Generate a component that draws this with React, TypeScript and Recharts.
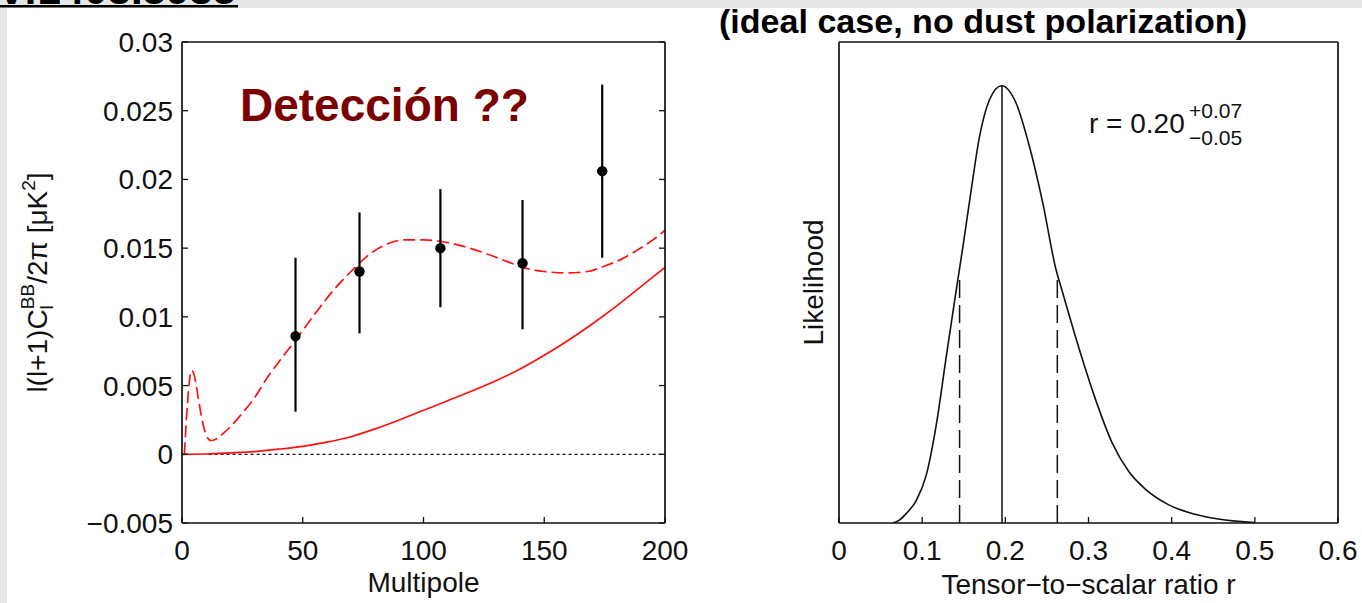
import React from "react";
import { ComposedChart, Line, Scatter, ErrorBar, XAxis, YAxis, ReferenceLine } from "recharts";

const FONT = "'Liberation Sans', Arial, Helvetica, sans-serif";
const INK = "#111111";
const RED = "#ff1010";

// left panel: BB band powers and models
const multipoleTicks = [0, 50, 100, 150, 200];
const powerTicks = [-0.005, 0, 0.005, 0.01, 0.015, 0.02, 0.025, 0.03];
const bandEll = [47, 73.5, 107, 141, 174];
const bandPower = [0.0086, 0.0133, 0.015, 0.0139, 0.0206];
const bandErrLow = [0.0055, 0.0045, 0.0043, 0.0048, 0.0063];
const bandErrHigh = [0.0057, 0.0043, 0.0043, 0.0046, 0.0063];

// lensing + r=0.2 model (dashed)
const modelEll = [1, 2, 3, 4, 5, 6, 7, 8, 10, 12, 14, 17, 20, 25, 30, 35, 40, 47, 55, 63, 70, 78, 85, 92, 100, 107, 115, 126, 135, 141, 150, 159, 168, 175, 182, 188, 195, 200];
const modelPower = [0, 0.003, 0.0052, 0.0061, 0.0058, 0.0049, 0.0038, 0.0028, 0.0014, 0.001, 0.0011, 0.0015, 0.002, 0.003, 0.0041, 0.0055, 0.0067, 0.0083, 0.0102, 0.012, 0.0133, 0.0146, 0.0153, 0.0156, 0.0156, 0.0155, 0.0152, 0.0146, 0.014, 0.0136, 0.0133, 0.0132, 0.0133, 0.0137, 0.0142, 0.0148, 0.0156, 0.0163];

// lensing only (solid)
const lensEll = [0, 10, 20, 30, 40, 50, 60, 70, 80, 90, 100, 110, 120, 130, 140, 150, 160, 170, 180, 190, 200];
const lensPower = [0, 0.00002, 0.0001, 0.0002, 0.00037, 0.00058, 0.00088, 0.00128, 0.00185, 0.0025, 0.0032, 0.0039, 0.0046, 0.00535, 0.0062, 0.0072, 0.0083, 0.0095, 0.0108, 0.0122, 0.0136];
const zeroLineFrom = 11;

// right panel: likelihood of r
const ratioTicks = [0, 0.1, 0.2, 0.3, 0.4, 0.5, 0.6];
const ratioGrid = [0.065, 0.072, 0.081, 0.093, 0.105, 0.117, 0.129, 0.141, 0.149, 0.159, 0.169, 0.181, 0.1955, 0.213, 0.229, 0.245, 0.261, 0.268, 0.288, 0.308, 0.328, 0.348, 0.368, 0.396, 0.428, 0.46, 0.5];
const likelihood = [0, 0.006, 0.022, 0.052, 0.11, 0.225, 0.381, 0.533, 0.632, 0.762, 0.884, 0.968, 1.0, 0.96, 0.861, 0.732, 0.579, 0.533, 0.403, 0.285, 0.185, 0.119, 0.078, 0.042, 0.02, 0.008, 0.001];
const rBest = 0.196;
const rLow = 0.145;
const rHigh = 0.2625;
const likeAtLow = 0.565;
const likeAtHigh = 0.56;

const bandData = bandEll.map((x, i) => ({ x, y: bandPower[i], err: [bandErrLow[i], bandErrHigh[i]] }));
const modelData = modelEll.map((x, i) => ({ x, y: modelPower[i] }));
const lensData = lensEll.map((x, i) => ({ x, y: lensPower[i] }));
const likeData = ratioGrid.map((x, i) => ({ x, y: likelihood[i] }));

interface TickProps {
  x?: number;
  y?: number;
  payload?: { value?: number };
}

const fmt = (v: number) => (v < 0 ? "\u2212" + String(-v) : String(v));

const renderBottomTick = ({ x = 0, y = 0, payload }: TickProps) => (
  <g>
    <line x1={x} y1={y} x2={x} y2={y - 6} stroke={INK} strokeWidth={1.3} />
    <text x={x} y={y + 37} textAnchor="middle" fontSize={28} fill={INK} fontFamily={FONT}>
      {fmt(payload?.value ?? 0)}
    </text>
  </g>
);

const renderTopTick = ({ x = 0, y = 0 }: TickProps) => <line x1={x} y1={y} x2={x} y2={y + 6} stroke={INK} strokeWidth={1.3} />;

const renderLeftTick = ({ x = 0, y = 0, payload }: TickProps) => (
  <g>
    <line x1={x} y1={y} x2={x + 6} y2={y} stroke={INK} strokeWidth={1.3} />
    <text x={x - 9} y={y + 10} textAnchor="end" fontSize={28} fill={INK} fontFamily={FONT}>
      {fmt(payload?.value ?? 0)}
    </text>
  </g>
);

const renderRightTick = ({ x = 0, y = 0 }: TickProps) => <line x1={x} y1={y} x2={x - 6} y2={y} stroke={INK} strokeWidth={1.3} />;

const renderXTitle = (text: string, dy: number) => (props: any) => {
  const vb = props.viewBox || {};
  const cx = (vb.x ?? 0) + (vb.width ?? 0) / 2;
  return (
    <text x={cx} y={(vb.y ?? 0) + dy} textAnchor="middle" fontSize={28} fill={INK} fontFamily={FONT}>
      {text}
    </text>
  );
};

const renderPowerTitle = (props: any) => {
  const vb = props.viewBox || {};
  const cx = (vb.x ?? 0) + 47;
  const cy = (vb.y ?? 42) + (vb.height ?? 481) / 2;
  return (
    <text transform={`rotate(-90 ${cx} ${cy})`} x={cx} y={cy} textAnchor="middle" fontSize={28} fill={INK} fontFamily={FONT}>
      l(l+1)C
      <tspan fontSize={19} dy={6}>l</tspan>
      <tspan fontSize={19} dx={-4} dy={-19}>BB</tspan>
      <tspan dy={13}>/2π [μK</tspan>
      <tspan fontSize={19} dy={-12}>2</tspan>
      <tspan dy={12}>]</tspan>
    </text>
  );
};

const renderLikeTitle = (props: any) => {
  const vb = props.viewBox || {};
  const cx = (vb.x ?? 0) + 103;
  const cy = (vb.y ?? 42) + (vb.height ?? 481) / 2;
  return (
    <text transform={`rotate(-90 ${cx} ${cy})`} x={cx} y={cy} textAnchor="middle" fontSize={28} fill={INK} fontFamily={FONT}>
      Likelihood
    </text>
  );
};

const axisLine = { stroke: INK, strokeWidth: 1.7 };

function SpectrumPanel() {
  return (
    <ComposedChart width={700} height={603} margin={{ top: 41, right: 34, bottom: 0, left: 0 }}>
      <XAxis dataKey="x" type="number" domain={[0, 200]} allowDataOverflow ticks={multipoleTicks} tickSize={0} tickMargin={0} tickLine={false} tick={renderBottomTick} axisLine={axisLine} height={80} label={renderXTitle("Multipole", 69)} />
      <XAxis xAxisId="top" orientation="top" type="number" domain={[0, 200]} allowDataOverflow ticks={multipoleTicks} tickSize={0} tickMargin={0} tickLine={false} tick={renderTopTick} axisLine={axisLine} height={1} />
      <YAxis type="number" domain={[-0.005, 0.03]} allowDataOverflow ticks={powerTicks} tickSize={0} tickMargin={0} tickLine={false} tick={renderLeftTick} axisLine={axisLine} width={182} label={renderPowerTitle} />
      <YAxis yAxisId="right" orientation="right" type="number" domain={[-0.005, 0.03]} allowDataOverflow ticks={powerTicks} tickSize={0} tickMargin={0} tickLine={false} tick={renderRightTick} axisLine={axisLine} width={1} />
      <ReferenceLine segment={[{ x: zeroLineFrom, y: 0 }, { x: 200, y: 0 }]} stroke={INK} strokeWidth={1.2} strokeDasharray="3 3" />
      <Line data={lensData} dataKey="y" type="monotone" stroke={RED} strokeWidth={1.7} dot={false} isAnimationActive={false} />
      <Line data={modelData} dataKey="y" type="monotone" stroke={RED} strokeWidth={1.7} strokeDasharray="12 5" dot={false} isAnimationActive={false} />
      <Scatter data={bandData} dataKey="y" fill="#000" isAnimationActive={false} shape={(p: any) => <circle cx={p.cx} cy={p.cy} r={5.2} fill="#000" />}>
        <ErrorBar dataKey="err" direction="y" width={0} stroke="#000" strokeWidth={2.2} isAnimationActive={false} />
      </Scatter>
    </ComposedChart>
  );
}

function LikelihoodPanel() {
  return (
    <ComposedChart width={642} height={603} margin={{ top: 41, right: 23, bottom: 0, left: 0 }}>
      <XAxis dataKey="x" type="number" domain={[0, 0.6]} allowDataOverflow ticks={ratioTicks} tickSize={0} tickMargin={0} tickLine={false} tick={renderBottomTick} axisLine={axisLine} height={80} label={renderXTitle("Tensor\u2212to\u2212scalar ratio r", 71)} />
      <XAxis xAxisId="top" orientation="top" type="number" domain={[0, 0.6]} allowDataOverflow ticks={ratioTicks} tickSize={0} tickMargin={0} tickLine={false} tick={renderTopTick} axisLine={axisLine} height={1} />
      <YAxis type="number" domain={[0, 1.1]} allowDataOverflow tick={false} tickLine={false} axisLine={axisLine} width={119} label={renderLikeTitle} />
      <YAxis yAxisId="right" orientation="right" type="number" domain={[0, 1.1]} allowDataOverflow tick={false} tickLine={false} axisLine={axisLine} width={1} />
      <ReferenceLine segment={[{ x: rBest, y: 0 }, { x: rBest, y: 1 }]} stroke={INK} strokeWidth={1.5} />
      <ReferenceLine segment={[{ x: rLow, y: 0 }, { x: rLow, y: likeAtLow }]} stroke={INK} strokeWidth={1.5} strokeDasharray="18 7" />
      <ReferenceLine segment={[{ x: rHigh, y: 0 }, { x: rHigh, y: likeAtHigh }]} stroke={INK} strokeWidth={1.5} strokeDasharray="18 7" />
      <Line data={likeData} dataKey="y" type="monotone" stroke={INK} strokeWidth={1.6} dot={false} isAnimationActive={false} />
    </ComposedChart>
  );
}

export default function App() {
  return (
    <div style={{ position: "absolute", left: 0, top: 0, width: 1362, height: 603, background: "#e6e6e6", overflow: "hidden", fontFamily: FONT }}>
      <div style={{ position: "absolute", left: 7, top: 8, width: 1355, height: 595, background: "#ffffff" }} />
      <div style={{ position: "absolute", left: 0, top: 0 }}>
        <SpectrumPanel />
      </div>
      <div style={{ position: "absolute", left: 720, top: 0 }}>
        <LikelihoodPanel />
      </div>
      <svg width={1362} height={603} style={{ position: "absolute", left: 0, top: 0, pointerEvents: "none" }}>
        <text x={236} y={4} textAnchor="end" fontSize={42} fontWeight={700} fill="#000" fontFamily={FONT}>
          arXiv:1403.3985
        </text>
        <rect x={0} y={5} width={238} height={2.5} fill="#000" />
        <text x={719} y={33} fontSize={34} fontWeight={700} fill="#000" fontFamily={FONT} textLength={528} lengthAdjust="spacingAndGlyphs">
          (ideal case, no dust polarization)
        </text>
        <text x={240} y={121} fontSize={46} fontWeight={700} fill="#7b0000" fontFamily={FONT}>
          Detección ??
        </text>
        <text x={1089} y={133} fontSize={28} fill={INK} fontFamily={FONT}>
          r = 0.20
        </text>
        <text x={1189} y={118} fontSize={21} fill={INK} fontFamily={FONT}>
          +0.07
        </text>
        <text x={1189} y={145} fontSize={21} fill={INK} fontFamily={FONT}>
          {"\u22120.05"}
        </text>
      </svg>
    </div>
  );
}
